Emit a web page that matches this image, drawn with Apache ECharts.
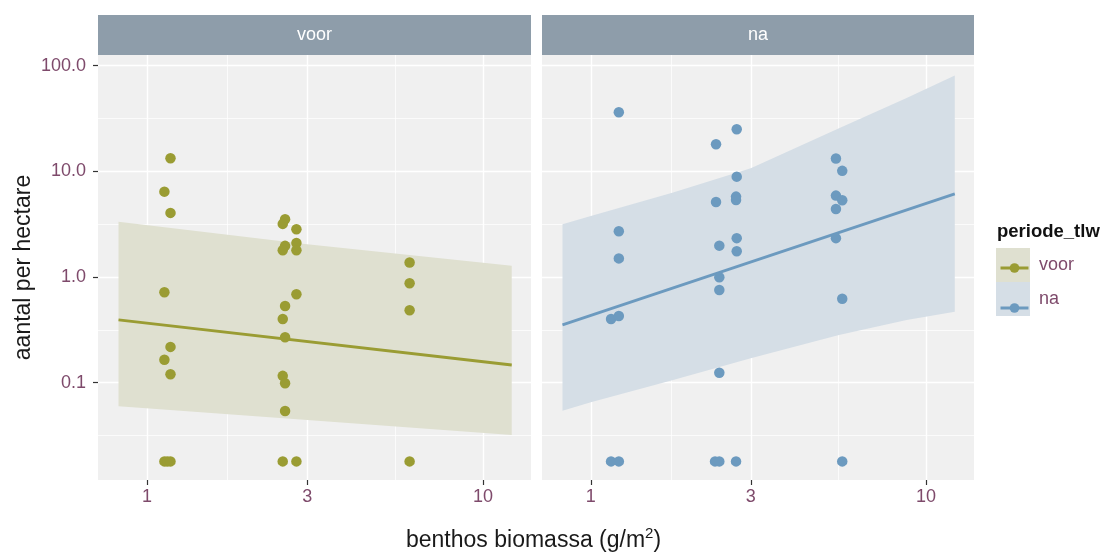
<!DOCTYPE html>
<html>
<head>
<meta charset="utf-8">
<script src="https://cdn.jsdelivr.net/npm/echarts@6/dist/echarts.min.js"></script>
<style>
html,body{margin:0;padding:0;background:#fff;}
#chart{width:1104px;height:553px;}
</style>
</head>
<body>
<div id="chart"></div>
<script>
// ---------- data ----------
const panels = ['voor', 'na'];
const xTicks = [1, 3, 10];
const xMinor = [1.732, 5.477];
const yTicks = [0.1, 1, 10, 100];
const yMinor = [0.0316, 0.316, 3.16, 31.6];

const voorX = [1.175,1.127,1.175,2.577,2.536,2.785,2.577,2.785,2.536,2.785,6.05,6.05,1.127,2.785,2.577,6.05,2.536,2.577,1.175,1.127,1.175,2.536,2.577,2.577,1.127,1.15,1.175,2.536,2.785,6.05];
const voorY = [13.3,6.42,4.04,3.52,3.18,2.83,1.97,2.10,1.79,1.79,1.37,0.873,0.717,0.687,0.532,0.484,0.401,0.269,0.218,0.165,0.120,0.116,0.0987,0.054,0.018,0.018,0.018,0.018,0.018,0.018];

const naX = [1.212,2.724,2.363,5.385,5.623,2.724,2.363,2.711,2.711,5.385,5.623,5.385,1.212,2.724,5.385,2.417,2.724,1.212,2.417,2.417,5.623,1.149,1.212,2.417,1.149,1.212,2.347,2.417,2.711,5.623];
const naY = [36.2,25.0,18.0,13.2,10.1,8.9,5.13,5.76,5.36,5.89,5.33,4.40,2.71,2.33,2.33,1.98,1.75,1.50,0.994,0.754,0.622,0.401,0.428,0.124,0.018,0.018,0.018,0.018,0.018,0.018];

const voorFitX = [0.823, 12.18];
const voorFitY = [0.392, 0.147];
const naFitX = [0.823, 12.18];
const naFitY = [0.352, 6.11];

const voorBandX = [0.823, 3, 12.18];
const voorBandLow = [0.0598, 0.0444, 0.032];
const voorBandHigh = [3.34, 2.04, 1.28];

const naBandX = [0.823, 1, 1.76, 3, 5.5, 8.75, 12.18];
const naBandLow = [0.0543, 0.0653, 0.106, 0.170, 0.283, 0.392, 0.470];
const naBandHigh = [3.16, 3.78, 6.3, 10.7, 25.6, 49.5, 80.4];

// ---------- style ----------
const FONT = 'Liberation Sans, Arial, sans-serif';
const colVoor = '#9A9C33';
const colNa = '#6C9ABF';
const bandVoor = '#DFE0D0';
const bandNa = '#D5DEE6';
const labelCol = '#7E4A6B';
const panelBg = '#F0F0F0';
const stripCol = '#8E9DAA';

const xMin = 0.715, xMax = 13.9;
const yMin = 0.012, yMax = 126;

const grids = [
  {left: 98, top: 55, width: 433, height: 425},
  {left: 542, top: 55, width: 432, height: 425}
];

function zip(a, b) { return a.map((v, i) => [v, b[i]]); }

const xAxes = [], yAxes = [];
grids.forEach((g, gi) => {
  xAxes.push({
    type: 'log', logBase: 10, gridIndex: gi, min: xMin, max: xMax,
    axisLine: {show: false},
    axisTick: {show: true, length: 5, lineStyle: {color: '#333', width: 1.2}, customValues: xTicks},
    axisLabel: {show: true, customValues: xTicks, margin: 8, color: labelCol, fontSize: 18, fontFamily: FONT,
      formatter: v => String(+(+v).toPrecision(6))},
    splitLine: {show: true, lineStyle: {color: '#FFFFFF', width: 1.4}}
  });
  xAxes.push({
    type: 'log', logBase: 10, gridIndex: gi, min: xMin, max: xMax, position: 'bottom',
    axisLine: {show: false},
    axisTick: {show: false, customValues: xMinor},
    axisLabel: {show: false, customValues: xMinor},
    splitLine: {show: true, lineStyle: {color: '#FFFFFF', width: 0.7}}
  });
  yAxes.push({
    type: 'log', logBase: 10, gridIndex: gi, min: yMin, max: yMax,
    axisLine: {show: false},
    axisTick: {show: gi === 0, length: 5, lineStyle: {color: '#333', width: 1.2}, customValues: yTicks},
    axisLabel: {show: gi === 0, customValues: yTicks, margin: 12, color: labelCol, fontSize: 18, fontFamily: FONT,
      formatter: v => (+v).toFixed(1)},
    splitLine: {show: true, lineStyle: {color: '#FFFFFF', width: 1.4}},
    name: gi === 0 ? 'aantal per hectare' : '',
    nameLocation: 'middle', nameRotate: 90, nameGap: 63,
    nameTextStyle: {fontSize: 23, color: '#1A1A1A', fontFamily: FONT}
  });
  yAxes.push({
    type: 'log', logBase: 10, gridIndex: gi, min: yMin, max: yMax, position: 'left',
    axisLine: {show: false},
    axisTick: {show: false, customValues: yMinor},
    axisLabel: {show: false, customValues: yMinor},
    splitLine: {show: true, lineStyle: {color: '#FFFFFF', width: 0.7}}
  });
});

function bandSeries(name, gi, bx, lo, hi, color) {
  return {
    type: 'custom', name: name, xAxisIndex: gi * 2, yAxisIndex: gi * 2, z: 1, silent: true,
    data: bx.map((x, i) => [x, lo[i], hi[i]]),
    encode: {x: 0, y: [1, 2]},
    renderItem: function (params, api) {
      if (params.dataIndex !== 0) return null;
      const pts = [];
      for (let i = 0; i < bx.length; i++) pts.push(api.coord([bx[i], hi[i]]));
      for (let i = bx.length - 1; i >= 0; i--) pts.push(api.coord([bx[i], lo[i]]));
      return {type: 'polygon', shape: {points: pts}, style: {fill: color}};
    }
  };
}

function lineSeries(name, gi, fx, fy, color) {
  return {
    type: 'line', name: name, xAxisIndex: gi * 2, yAxisIndex: gi * 2, z: 3,
    data: zip(fx, fy), showSymbol: false, symbol: 'circle', symbolSize: 8,
    lineStyle: {color: color, width: 2.8}, itemStyle: {color: color}, silent: true
  };
}

function pointSeries(name, gi, xs, ys, color) {
  return {
    type: 'scatter', name: name, xAxisIndex: gi * 2, yAxisIndex: gi * 2, z: 4,
    data: zip(xs, ys), symbol: 'circle', symbolSize: 10.5,
    itemStyle: {color: color, opacity: 1}, silent: true
  };
}

const series = [
  lineSeries('voor', 0, voorFitX, voorFitY, colVoor),
  lineSeries('na', 1, naFitX, naFitY, colNa),
  pointSeries('voor', 0, voorX, voorY, colVoor),
  pointSeries('na', 1, naX, naY, colNa),
  bandSeries('voor', 0, voorBandX, voorBandLow, voorBandHigh, bandVoor),
  bandSeries('na', 1, naBandX, naBandLow, naBandHigh, bandNa)
];

const stripGraphics = [];
grids.forEach((g, gi) => {
  stripGraphics.push({type: 'rect', left: g.left, top: 15, shape: {width: g.width, height: 40}, style: {fill: stripCol}, silent: true});
  stripGraphics.push({type: 'text', x: g.left + g.width / 2, y: 35, silent: true,
    style: {text: panels[gi], fill: '#FFFFFF', fontSize: 18, fontFamily: FONT, align: 'center', verticalAlign: 'middle'}});
});

const option = {
  animation: false,
  backgroundColor: '#FFFFFF',
  grid: grids.map(g => Object.assign({show: true, backgroundColor: panelBg, borderWidth: 0, containLabel: false}, g)),
  xAxis: xAxes,
  yAxis: yAxes,
  series: series,
  title: [
    {text: 'periode_tlw', left: 997, top: 222, padding: 0,
      textStyle: {fontWeight: 'bold', fontSize: 18.5, color: '#111', fontFamily: FONT}},
    {text: '{a|benthos biomassa (g/m}{s|2}{a|)}', left: 406, top: 526, padding: 0,
      textStyle: {fontWeight: 'normal', rich: {
        a: {fontSize: 23, fontWeight: 'normal', color: '#1A1A1A', fontFamily: FONT},
        s: {fontSize: 15, fontWeight: 'normal', color: '#1A1A1A', fontFamily: FONT, padding: [0, 0, 14, 0]}
      }}}
  ],
  legend: [
    {orient: 'vertical', left: 996, top: 248, itemWidth: 34, itemHeight: 34, itemGap: 0, padding: 0,
      selectedMode: false,
      textStyle: {color: labelCol, fontSize: 18, fontFamily: FONT, padding: [0, 0, 0, 4]},
      data: [
        {name: 'voor', icon: 'rect', itemStyle: {color: bandVoor, borderWidth: 0}},
        {name: 'na', icon: 'rect', itemStyle: {color: bandNa, borderWidth: 0}}
      ]},
    {orient: 'vertical', left: 999, top: 259, itemWidth: 28, itemHeight: 12, itemGap: 22, padding: 0,
      selectedMode: false, z: 10,
      lineStyle: {width: 3},
      textStyle: {color: 'rgba(0,0,0,0)', fontSize: 18, fontFamily: FONT},
      data: ['voor', 'na']}
  ],
  graphic: stripGraphics
};

const chart = echarts.init(document.getElementById('chart'), null, {renderer: 'canvas'});
chart.setOption(option);
</script>
</body>
</html>
